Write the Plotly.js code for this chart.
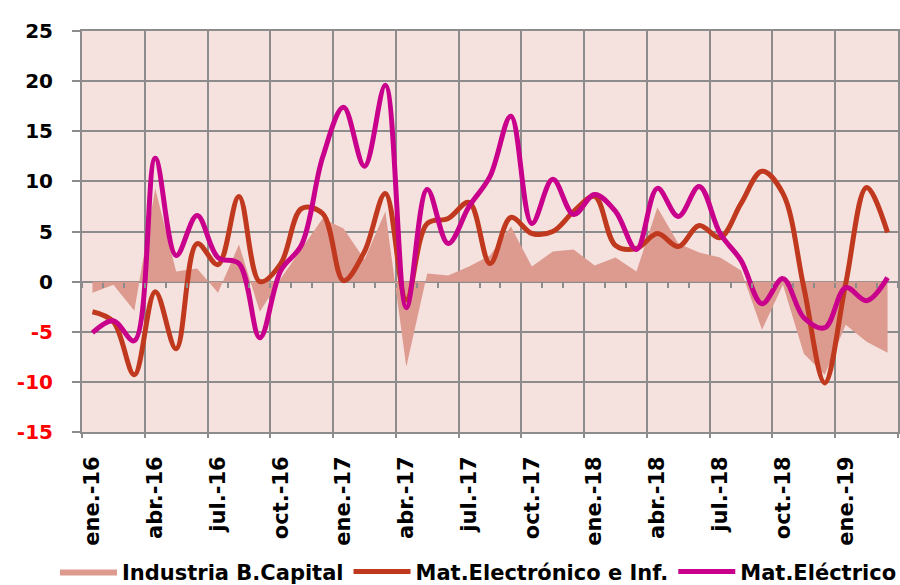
<!DOCTYPE html>
<html>
<head>
<meta charset="utf-8">
<script src="https://cdn.plot.ly/plotly-3.0.1.min.js"></script>
<style>html,body{margin:0;padding:0;background:#fff;}#chart{width:900px;height:585px;}</style>
</head>
<body>
<div id="chart"></div>
<script>
const months = ['ene.-16','feb.-16','mar.-16','abr.-16','may.-16','jun.-16','jul.-16','ago.-16','sep.-16','oct.-16','nov.-16','dic.-16',
  'ene.-17','feb.-17','mar.-17','abr.-17','may.-17','jun.-17','jul.-17','ago.-17','sep.-17','oct.-17','nov.-17','dic.-17',
  'ene.-18','feb.-18','mar.-18','abr.-18','may.-18','jun.-18','jul.-18','ago.-18','sep.-18','oct.-18','nov.-18','dic.-18',
  'ene.-19','feb.-19','mar.-19'];
const industria = [-1.1,-0.3,-2.9,9.3,1.0,1.3,-1.1,3.7,-3.0,0.3,3.3,6.3,
  5.3,2.2,7.0,-8.5,0.8,0.6,1.5,2.6,5.5,1.5,3.0,3.2,
  1.6,2.4,1.0,7.4,3.8,2.9,2.4,1.1,-4.8,-0.3,-7.2,-9.3,
  -4.3,-6.0,-7.1];
const electronico = [-3.0,-4.0,-9.3,-1.0,-6.7,3.8,1.7,8.5,0.0,1.8,7.3,6.8,
  0.1,3.0,8.8,-1.8,5.8,6.3,7.9,1.8,6.4,4.8,5.0,7.0,
  8.5,3.6,3.3,4.8,3.5,5.6,4.4,7.8,11.0,8.8,-0.6,-10.1,
  -0.2,9.4,4.9];
const electrico = [-5.1,-3.9,-5.9,12.3,2.6,6.6,2.4,1.8,-5.6,1.1,3.7,12.4,
  17.4,11.5,19.6,-2.6,9.2,3.8,7.5,10.5,16.5,5.8,10.2,6.7,
  8.7,7.0,3.2,9.3,6.5,9.5,4.8,2.1,-2.2,0.3,-3.6,-4.6,
  -0.6,-1.9,0.4];
const yTicks = [-15,-10,-5,0,5,10,15,20,25];
const seriesNames = ['Industria B.Capital','Mat.Electrónico e Inf.','Mat.Eléctrico'];

const idx = months.map((m, i) => i);
const labelIdx = idx.filter(i => i % 3 === 0);
const lastEdge = idx.length - 0.5;
const gridEdges = labelIdx.map(i => i - 0.5).concat([lastEdge]);
const monthEdges = idx.map(i => i - 0.5).concat([lastEdge]);
const yText = yTicks.map(v => v < 0 ? '<span style="color:#ff0000">' + v + '</span>' : String(v));

const FONT = 'DejaVu Sans, Verdana, sans-serif';
const GRID = '#8c8c8c';

const traces = [
  {type:'scatter', x: idx, y: industria, name: seriesNames[0], mode:'lines', fill:'tozeroy',
   fillcolor:'#dd9a8f', line:{width:0, color:'#dd9a8f'}, hoverinfo:'skip'},
  {type:'scatter', x: idx, y: electronico, name: seriesNames[1], mode:'lines',
   line:{color:'#c0391f', width:5, shape:'spline', smoothing:1}},
  {type:'scatter', x: idx, y: electrico, name: seriesNames[2], mode:'lines',
   line:{color:'#c8008c', width:5, shape:'spline', smoothing:1}},
  {type:'scatter', x: idx, y: industria, xaxis:'x2', mode:'none', showlegend:false, hoverinfo:'skip'}
];

const layout = {
  width: 900, height: 585,
  margin: {l:82, r:2, t:31, b:153, autoexpand:false},
  paper_bgcolor:'#ffffff', plot_bgcolor:'#f5e1de',
  showlegend: true,
  font: {family: FONT, color:'#000000'},
  xaxis: {
    range: [-0.5, lastEdge], tickmode:'array', tickvals: labelIdx, ticktext: labelIdx.map(i => months[i]),
    tickangle: -90, showgrid:false, zeroline:false, showline:true, mirror:true,
    linecolor: GRID, linewidth: 2, ticks:'', ticklabelstandoff: 14,
    tickfont: {family: FONT, size: 21, color:'#000000', weight: 700},
    minor: {tickmode:'array', tickvals: gridEdges, showgrid:true, gridcolor: GRID, gridwidth: 2,
            ticks:'outside', ticklen: 4, tickcolor: GRID, tickwidth: 2}
  },
  xaxis2: {
    overlaying:'x', anchor:'free', position: 15/40, range: [-0.5, lastEdge],
    tickmode:'array', tickvals: monthEdges, ticks:'outside', ticklen: 5, tickcolor: GRID, tickwidth: 2,
    showticklabels:false, showgrid:false, zeroline:false, showline:false
  },
  yaxis: {
    range: [-15, 25], tickmode:'array', tickvals: yTicks, ticktext: yText,
    showgrid:true, gridcolor: GRID, gridwidth: 2, zeroline:false,
    showline:true, mirror:true, linecolor: GRID, linewidth: 2,
    ticks:'outside', ticklen: 8, tickcolor: GRID, tickwidth: 2, ticklabelstandoff: 15,
    tickfont: {family: FONT, size: 20, color:'#000000', weight: 700}
  },
  legend: {
    orientation:'h', x: -0.0331, xanchor:'left', y: -0.349, yanchor:'middle',
    font: {family: FONT, size: 21, color:'#000000', weight: 700},
    itemwidth: 57, bgcolor:'rgba(0,0,0,0)', traceorder:'normal'
  }
};

Plotly.newPlot('chart', traces, layout, {displayModeBar:false, staticPlot:true});
</script>
</body>
</html>
